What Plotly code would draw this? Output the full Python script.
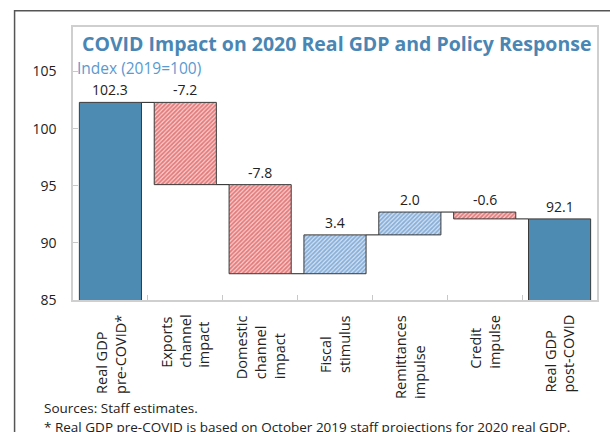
import plotly.graph_objects as go

# Waterfall of 2020 real GDP index (2019 = 100)
categories = [
    ["Real GDP", "pre-COVID*"],
    ["Exports", "channel", "impact"],
    ["Domestic", "channel", "impact"],
    ["Fiscal", "stimulus"],
    ["Remittances", "impulse"],
    ["Credit", "impulse"],
    ["Real GDP", "post-COVID"],
]
measures = ["absolute", "relative", "relative", "relative", "relative", "relative", "total"]
values = [102.3, -7.2, -7.8, 3.4, 2.0, -0.6, 92.1]
value_labels = ["102.3", "-7.2", "-7.8", "3.4", "2.0", "-0.6", "92.1"]
y_ticks = [85, 90, 95, 100, 105]

title = "COVID Impact on 2020 Real GDP and Policy Response"
subtitle = "Index (2019=100)"
source_note = "Sources: Staff estimates."
footnote = "* Real GDP pre-COVID is based on October 2019 staff projections for 2020 real GDP."

FONT = "Open Sans"
SOLID = "#4d8bb2"
RED, RED_BG = "#d62424", "#f6d0d0"
BLUE, BLUE_BG = "#3b7bc0", "#d5e3f3"
OUTLINE = "#3a3a3a"
BAR_W = 0.83

# cumulative bases / heights for each bar
bases, heights, levels = [], [], []
running = 0.0
for m, v in zip(measures, values):
    if m == "relative":
        bases.append(running)
        running += v
    else:
        bases.append(0.0)
        running = v
    heights.append(v)
    levels.append(running)

xs = list(range(len(values)))
groups = {"solid": [], "down": [], "up": []}
for i, (m, v) in enumerate(zip(measures, values)):
    if m != "relative":
        groups["solid"].append(i)
    elif v < 0:
        groups["down"].append(i)
    else:
        groups["up"].append(i)

fig = go.Figure()
fig.add_trace(go.Bar(
    x=[xs[i] for i in groups["solid"]],
    y=[heights[i] for i in groups["solid"]],
    base=[bases[i] for i in groups["solid"]],
    width=BAR_W, hoverinfo="skip",
    marker=dict(color=SOLID, line=dict(color=OUTLINE, width=1)),
))
for key, col, bg in (("down", RED, RED_BG), ("up", BLUE, BLUE_BG)):
    idx = groups[key]
    fig.add_trace(go.Bar(
        x=[xs[i] for i in idx],
        y=[heights[i] for i in idx],
        base=[bases[i] for i in idx],
        width=BAR_W, hoverinfo="skip",
        marker=dict(
            color=bg,
            line=dict(color=OUTLINE, width=1),
            pattern=dict(shape="/", fgcolor=col, size=3, solidity=0.6,
                         fillmode="overlay"),
        ),
    ))

# connector lines between consecutive bars
cx, cy = [], []
for i in range(len(values) - 1):
    cx += [i + BAR_W / 2, i + 1 - BAR_W / 2, None]
    cy += [levels[i], levels[i], None]
fig.add_trace(go.Scatter(x=cx, y=cy, mode="lines",
                         line=dict(color="#222222", width=1), hoverinfo="skip"))

annotations = [
    dict(text=f"<b>{title}</b>", x=0.0139, y=0.9388, xref="paper", yref="paper",
         xanchor="left", yanchor="middle", showarrow=False,
         font=dict(family=FONT, size=19.5, color="#4a86b4")),
    dict(text=subtitle, x=0.0045, y=0.8508, xref="paper", yref="paper",
         xanchor="left", yanchor="middle", showarrow=False,
         font=dict(family=FONT, size=15.5, color="#5a9ad0")),
    dict(text=source_note, x=-0.0583, y=-0.396, xref="paper", yref="paper",
         xanchor="left", yanchor="middle", showarrow=False,
         font=dict(family=FONT, size=13.5, color="#222222")),
    dict(text=footnote, x=-0.0583, y=-0.4657, xref="paper", yref="paper",
         xanchor="left", yanchor="middle", showarrow=False,
         font=dict(family=FONT, size=13.5, color="#222222")),
]

# value labels just above the top edge of each bar
for i, lab in enumerate(value_labels):
    top = max(bases[i], bases[i] + heights[i])
    annotations.append(dict(
        text=lab, x=xs[i], y=top, xref="x", yref="y",
        xanchor="center", yanchor="bottom", yshift=1, showarrow=False,
        font=dict(family=FONT, size=14, color="#222222"),
    ))

# rotated category labels under the axis
for i, lines in enumerate(categories):
    annotations.append(dict(
        text="<br>".join(lines), x=i, y=-0.0477, xref="x", yref="paper",
        xanchor="center", yanchor="top", textangle=-90, align="left",
        showarrow=False, font=dict(family=FONT, size=14.5, color="#222222"),
    ))

fig.update_layout(
    width=610, height=432,
    margin=dict(l=73, r=11, t=27, b=132),
    paper_bgcolor="white", plot_bgcolor="white",
    showlegend=False, barmode="overlay",
    annotations=annotations,
    shapes=[dict(type="rect", xref="paper", yref="paper",
                 x0=-0.1115, y0=-0.7, x1=1.2, y1=1.0598,
                 line=dict(color="#555555", width=1.5), layer="below")],
)
fig.update_xaxes(
    range=[-0.5, 6.5], tickvals=[0.5, 1.5, 2.5, 3.5, 4.5, 5.5],
    showticklabels=False, ticks="inside", ticklen=5, tickcolor="#c8c8c8",
    showline=True, linecolor="#cfcfcf", linewidth=1.5, mirror=True,
    showgrid=False, zeroline=False, fixedrange=True,
)
fig.update_yaxes(
    range=[85, 108.9], tickvals=y_ticks, ticks="inside", ticklen=5,
    tickcolor="#c8c8c8", ticklabelstandoff=12,
    tickfont=dict(family=FONT, size=14, color="#222222"),
    showline=True, linecolor="#cfcfcf", linewidth=1.5, mirror=True,
    showgrid=False, zeroline=False, fixedrange=True,
)

fig.write_html("out.html")
